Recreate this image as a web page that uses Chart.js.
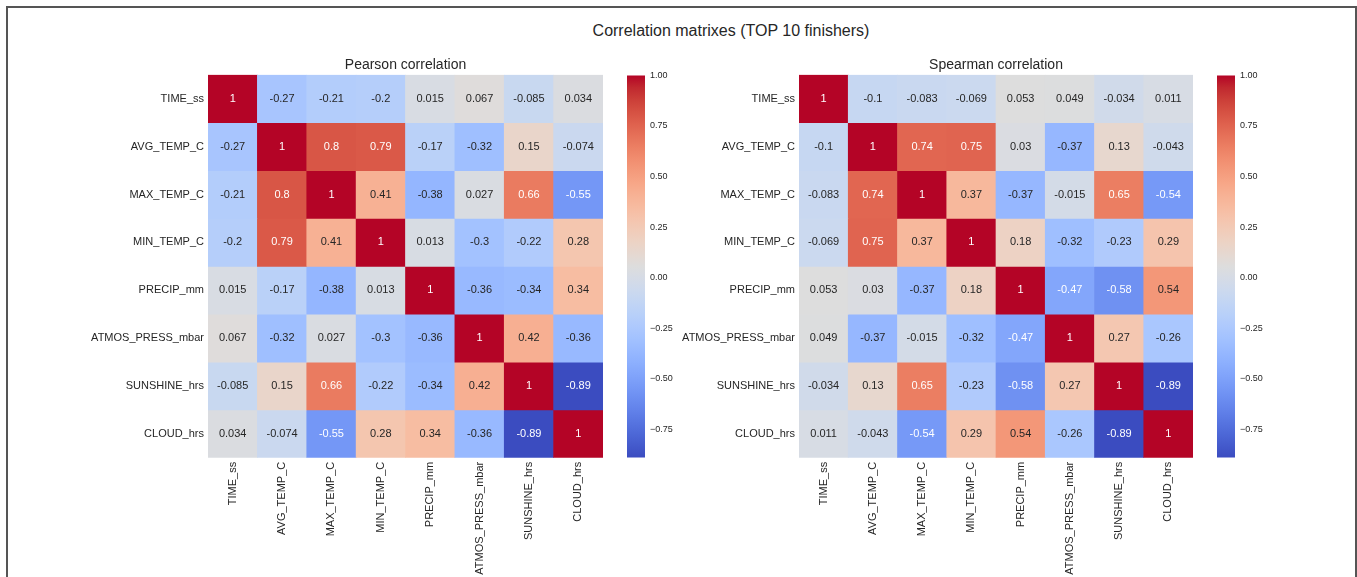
<!DOCTYPE html>
<html>
<head>
<meta charset="utf-8">
<script src="https://cdn.jsdelivr.net/npm/chart.js@4"></script>
<style>
  body { margin: 0; background: #fff; width: 1357px; height: 577px; overflow: hidden; position: relative; font-family: 'Liberation Sans', Arial, sans-serif; }
  .frame { position: absolute; left: 6px; top: 6px; width: 1347px; height: 600px; border: 2px solid #555; }
  .title { position: absolute; left: 431px; top: 21px; width: 600px; text-align: center; font-size: 16px; line-height: 20px; color: #262626; }
  canvas { position: absolute; }
</style>
</head>
<body>
<div class="frame"></div>
<div class="title">Correlation matrixes (TOP 10 finishers)</div>
<canvas id="pearson-chart" width="603" height="521" style="left:0;top:56px"></canvas>
<canvas id="pearson-bar" width="60" height="403" style="left:627px;top:65px"></canvas>
<canvas id="spearman-chart" width="602" height="521" style="left:591px;top:56px"></canvas>
<canvas id="spearman-bar" width="60" height="403" style="left:1217px;top:65px"></canvas>
<script>
const variables = ['TIME_ss', 'AVG_TEMP_C', 'MAX_TEMP_C', 'MIN_TEMP_C', 'PRECIP_mm', 'ATMOS_PRESS_mbar', 'SUNSHINE_hrs', 'CLOUD_hrs'];

const pearson = [
  [1, -0.27, -0.21, -0.2, 0.015, 0.067, -0.085, 0.034],
  [-0.27, 1, 0.8, 0.79, -0.17, -0.32, 0.15, -0.074],
  [-0.21, 0.8, 1, 0.41, -0.38, 0.027, 0.66, -0.55],
  [-0.2, 0.79, 0.41, 1, 0.013, -0.3, -0.22, 0.28],
  [0.015, -0.17, -0.38, 0.013, 1, -0.36, -0.34, 0.34],
  [0.067, -0.32, 0.027, -0.3, -0.36, 1, 0.42, -0.36],
  [-0.085, 0.15, 0.66, -0.22, -0.34, 0.42, 1, -0.89],
  [0.034, -0.074, -0.55, 0.28, 0.34, -0.36, -0.89, 1],
];

const spearman = [
  [1, -0.1, -0.083, -0.069, 0.053, 0.049, -0.034, 0.011],
  [-0.1, 1, 0.74, 0.75, 0.03, -0.37, 0.13, -0.043],
  [-0.083, 0.74, 1, 0.37, -0.37, -0.015, 0.65, -0.54],
  [-0.069, 0.75, 0.37, 1, 0.18, -0.32, -0.23, 0.29],
  [0.053, 0.03, -0.37, 0.18, 1, -0.47, -0.58, 0.54],
  [0.049, -0.37, -0.015, -0.32, -0.47, 1, 0.27, -0.26],
  [-0.034, 0.13, 0.65, -0.23, -0.58, 0.27, 1, -0.89],
  [0.011, -0.043, -0.54, 0.29, 0.54, -0.26, -0.89, 1],
];

const colorbarTicks = [-0.75, -0.5, -0.25, 0, 0.25, 0.5, 0.75, 1];

// coolwarm (Moreland), 33 evenly spaced stops
const cw = [
  [59,76,192],[68,90,204],[77,104,215],[87,117,225],[98,130,234],[108,142,241],[119,154,247],[130,165,251],
  [141,176,254],[152,185,255],[163,194,255],[174,201,253],[184,208,249],[194,213,244],[204,217,238],[213,219,230],
  [221,221,221],[229,216,209],[236,211,197],[241,204,185],[245,196,173],[247,187,160],[247,177,148],[247,166,135],
  [244,154,123],[241,141,111],[236,127,99],[229,112,88],[222,96,77],[213,80,66],[203,62,56],[192,40,47],[180,4,38],
];
const textDark = '#262626';
const font = "'Liberation Sans', Arial, sans-serif";

function coolwarm(t) {
  t = Math.min(1, Math.max(0, t));
  const p = t * (cw.length - 1);
  const i = Math.min(Math.floor(p), cw.length - 2);
  const f = p - i;
  return cw[i].map((c, k) => Math.round(c + (cw[i + 1][k] - c) * f));
}

function rgb(c) { return `rgb(${c[0]},${c[1]},${c[2]})`; }

// same rule seaborn uses to pick the annotation colour
function luminance(c) {
  const l = c.map(v => { v /= 255; return v <= 0.03928 ? v / 12.92 : Math.pow((v + 0.055) / 1.055, 2.4); });
  return 0.2126 * l[0] + 0.7152 * l[1] + 0.0722 * l[2];
}

const annotate = {
  id: 'annotate',
  afterDatasetsDraw(chart) {
    const { ctx } = chart;
    const { vmin, vmax } = chart.options.plugins.annotate;
    ctx.save();
    ctx.font = `11px ${font}`;
    ctx.textAlign = 'center';
    ctx.textBaseline = 'middle';
    chart.data.datasets.forEach((ds, r) => {
      chart.getDatasetMeta(r).data.forEach((el, c) => {
        const v = ds.values[c];
        const col = coolwarm((v - vmin) / (vmax - vmin));
        ctx.fillStyle = luminance(col) > 0.408 ? textDark : '#fff';
        ctx.fillText(String(v), el.x, (el.y + el.base) / 2);
      });
    });
    ctx.restore();
  },
};

function createHeatmap(id, title, matrix) {
  const vmin = Math.min(...matrix.flat());
  const vmax = Math.max(...matrix.flat());
  new Chart(document.getElementById(id), {
    type: 'bar',
    data: {
      labels: variables,
      datasets: matrix.map((row, r) => ({
        values: row,
        data: row.map(() => [r, r + 1]),
        backgroundColor: row.map(v => rgb(coolwarm((v - vmin) / (vmax - vmin)))),
        grouped: false, barPercentage: 1, categoryPercentage: 1, borderWidth: 0,
      })),
    },
    options: {
      responsive: false, animation: false,
      layout: { padding: 0 },
      plugins: {
        legend: { display: false }, tooltip: { enabled: false },
        title: { display: true, text: title, fullSize: false, color: textDark, font: { family: font, size: 14, weight: 'normal' }, padding: { top: 1, bottom: 1 } },
        annotate: { vmin, vmax },
      },
      scales: {
        x: {
          grid: { display: false, drawTicks: false }, border: { display: false },
          ticks: { autoSkip: false, minRotation: 90, maxRotation: 90, padding: 4, color: textDark, font: { family: font, size: 11 } },
          afterFit: s => { s.height = 119.2; },
        },
        y: {
          min: 0, max: variables.length, reverse: true,
          grid: { display: false, drawTicks: false }, border: { display: false },
          afterBuildTicks: ax => { ax.ticks = variables.map((_, i) => ({ value: i + 0.5 })); },
          ticks: { autoSkip: false, padding: 4, color: textDark, font: { family: font, size: 11 }, callback: (v, i) => variables[i] },
          afterFit: s => { s.width = 208; },
        },
      },
    },
    plugins: [annotate],
  });
}

function createColorbar(id, matrix) {
  const vmin = Math.min(...matrix.flat());
  const vmax = Math.max(...matrix.flat());
  new Chart(document.getElementById(id), {
    type: 'bar',
    data: {
      labels: [''],
      datasets: [{
        data: [[vmin, vmax]],
        backgroundColor: ctx => {
          const y = ctx.chart.scales.y;
          const y0 = y ? y.getPixelForValue(vmin) : NaN;
          const y1 = y ? y.getPixelForValue(vmax) : NaN;
          if (!isFinite(y0) || !isFinite(y1)) return rgb(cw[16]);
          const g = ctx.chart.ctx.createLinearGradient(0, y0, 0, y1);
          cw.forEach((c, i) => g.addColorStop(i / (cw.length - 1), rgb(c)));
          return g;
        },
        barPercentage: 1, categoryPercentage: 1, borderWidth: 0,
      }],
    },
    options: {
      responsive: false, animation: false,
      layout: { padding: { top: 10, bottom: 10 } },
      plugins: { legend: { display: false }, tooltip: { enabled: false } },
      scales: {
        x: { display: false },
        y: {
          position: 'right', min: vmin, max: vmax,
          grid: { display: false, drawTicks: false }, border: { display: false },
          afterBuildTicks: ax => { ax.ticks = colorbarTicks.map(v => ({ value: v })); },
          ticks: { padding: 5, color: textDark, font: { family: font, size: 9 }, callback: v => v.toFixed(2).replace('-', '\u2212') },
          afterFit: s => { s.width = 42; },
        },
      },
    },
  });
}

createHeatmap('pearson-chart', 'Pearson correlation', pearson);
createColorbar('pearson-bar', pearson);
createHeatmap('spearman-chart', 'Spearman correlation', spearman);
createColorbar('spearman-bar', spearman);
</script>
</body>
</html>
